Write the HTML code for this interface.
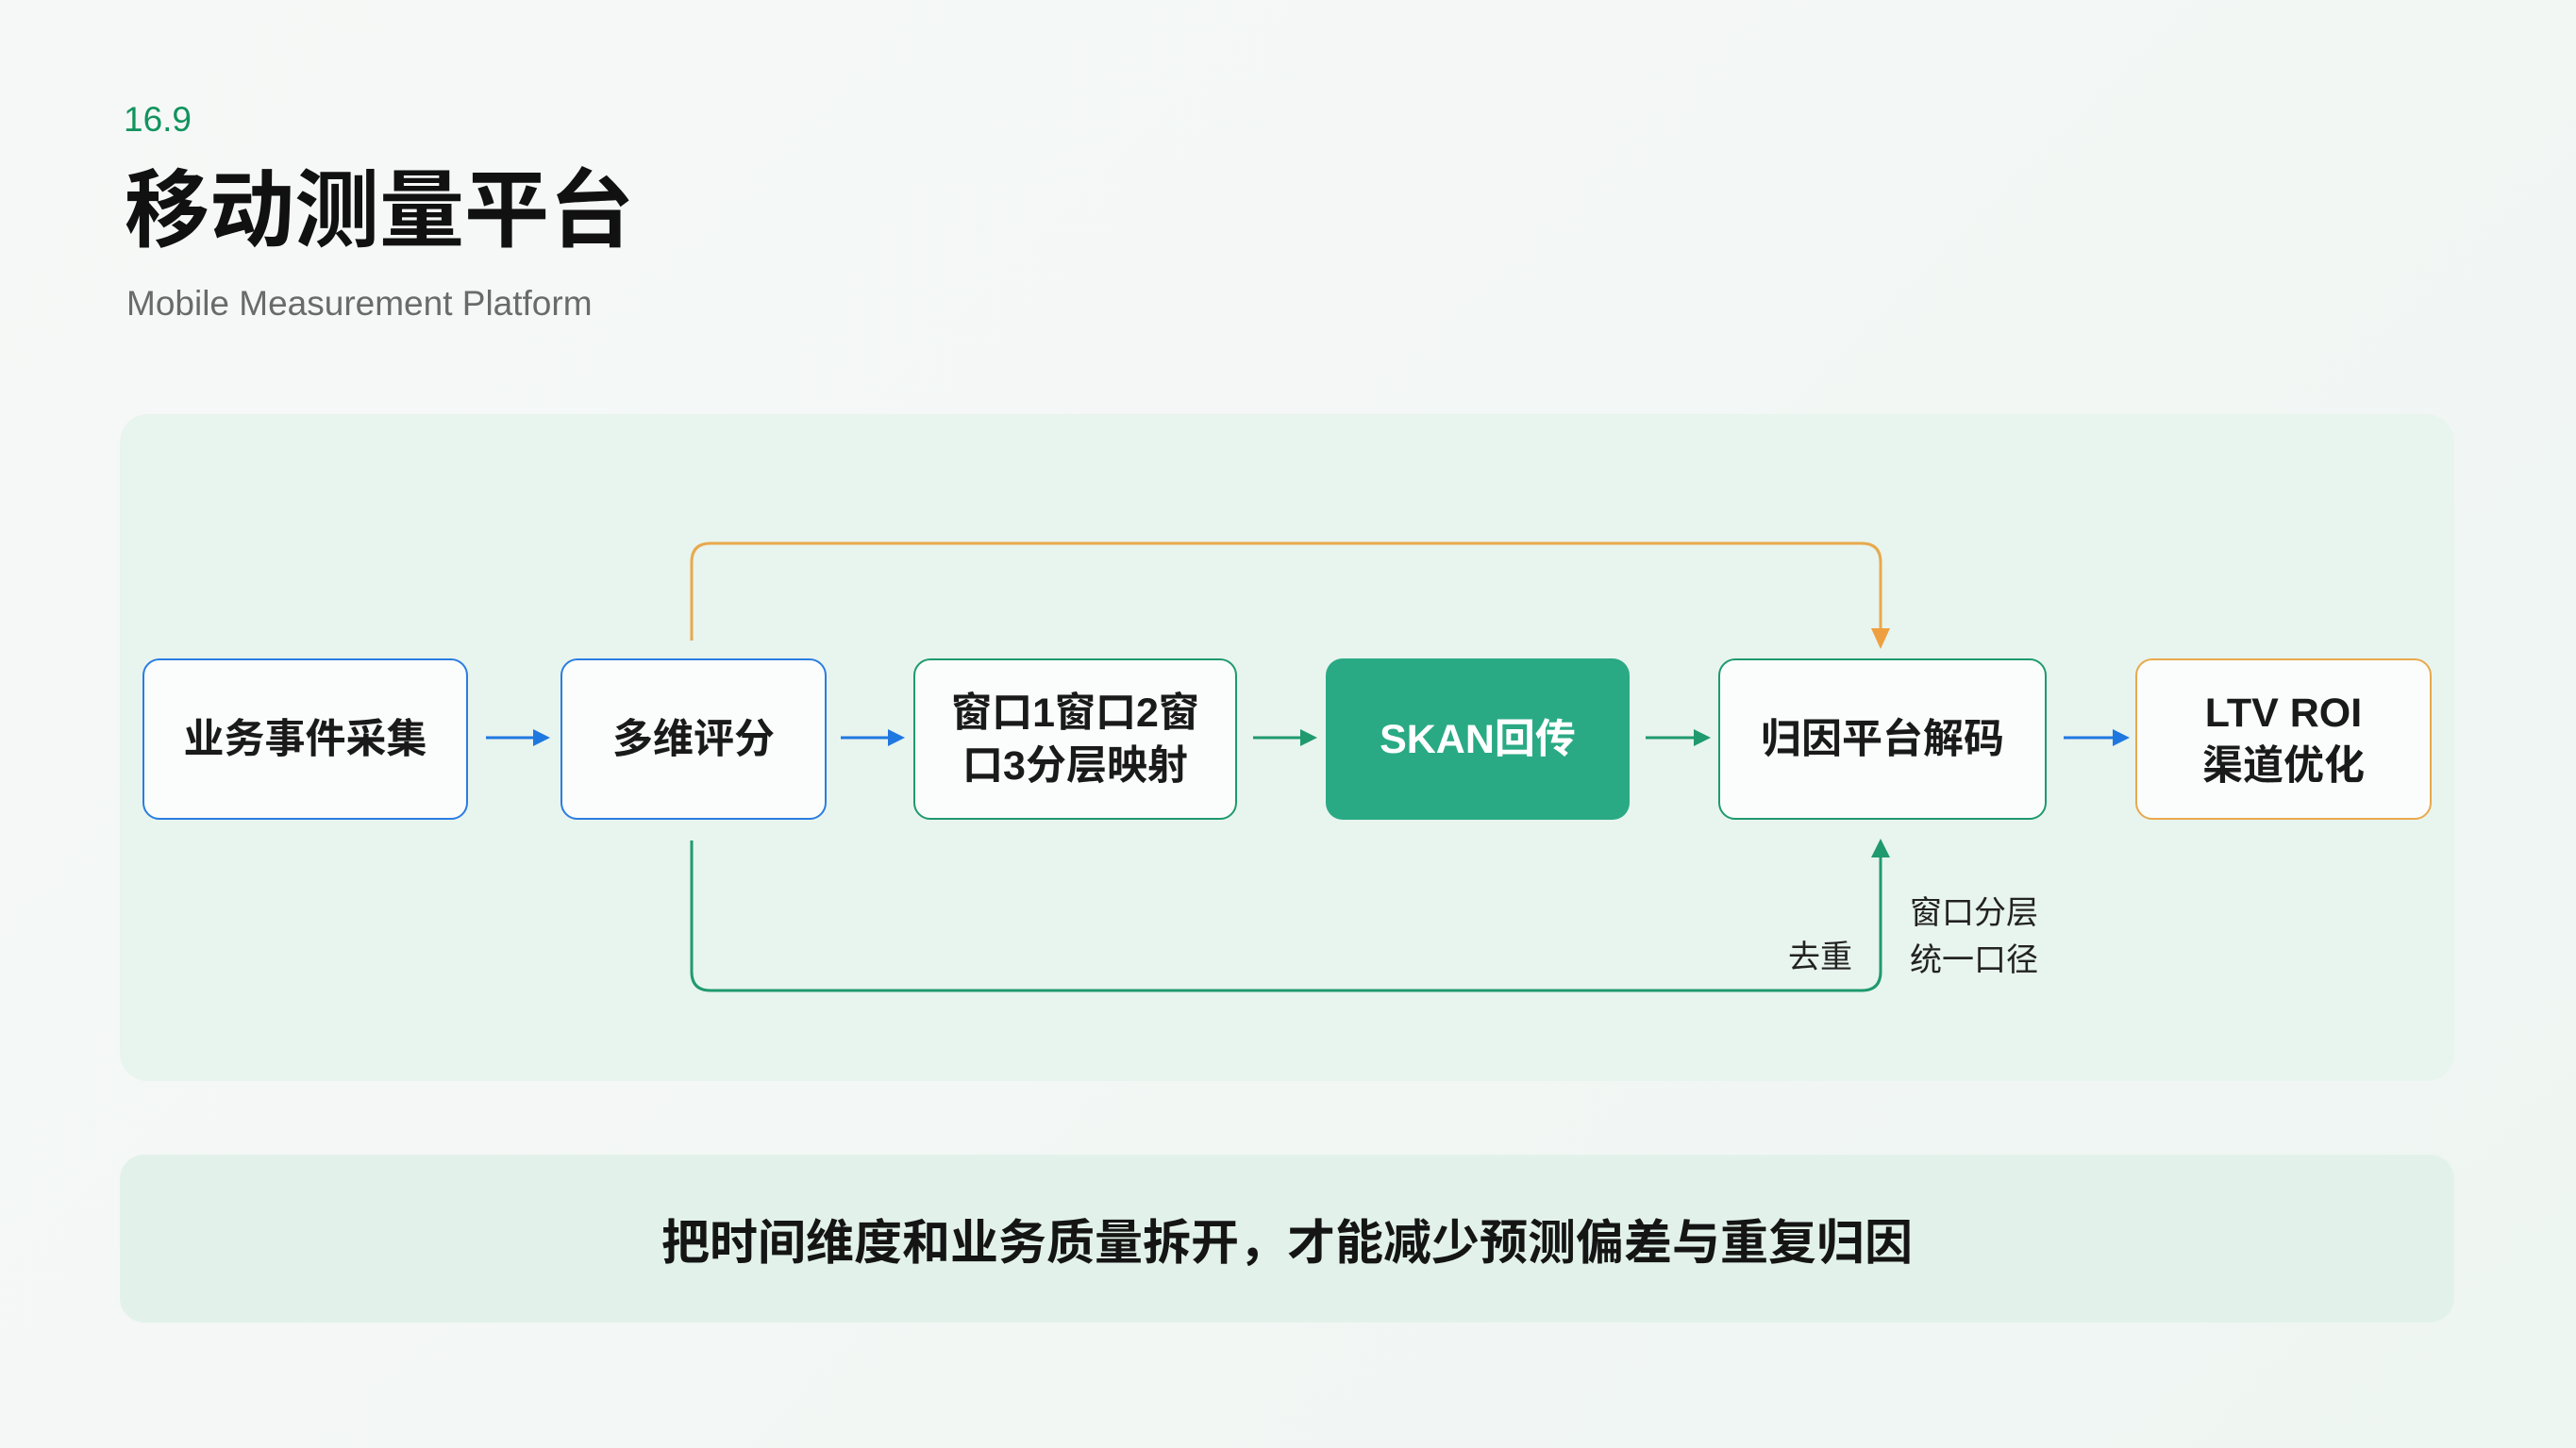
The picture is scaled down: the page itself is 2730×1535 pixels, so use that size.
<!DOCTYPE html>
<html><head><meta charset="utf-8"><style>
html,body{margin:0;padding:0}
body{width:2730px;height:1535px;position:relative;overflow:hidden;background:linear-gradient(135deg,#f6f8f7 0%,#f3f7f5 50%,#eef6f2 100%);font-family:"Liberation Sans","Noto Sans CJK SC",sans-serif;}
.abs{position:absolute}
.box{position:absolute;top:698px;height:171px;box-sizing:border-box;border-radius:18px;background:#fbfdfc;display:flex;align-items:center;justify-content:center;text-align:center;font-size:43px;font-weight:600;color:#1a1a1a;line-height:56px}
.lbl{position:absolute;font-size:34px;color:#222;line-height:50px}
</style></head><body>
<div class="abs" style="left:131px;top:106px;font-size:37px;color:#12935e">16.9</div>
<div class="abs" style="left:132px;top:166px;font-size:90px;font-weight:700;color:#111;line-height:116px">移动测量平台</div>
<div class="abs" style="left:134px;top:301px;font-size:37px;color:#6a6a6a">Mobile Measurement Platform</div>
<div class="abs" style="left:127px;top:439px;width:2474px;height:707px;border-radius:30px;background:#e8f4ee"></div>
<div class="abs" style="left:127px;top:1224px;width:2474px;height:178px;border-radius:26px;background:#e2f2ea;display:flex;align-items:center;justify-content:center;font-size:51px;font-weight:700;color:#151515">把时间维度和业务质量拆开，才能减少预测偏差与重复归因</div>
<svg class="abs" style="left:0;top:0" width="2730" height="1535">
<g stroke-width="3" fill="none">
<path d="M733 679 V596 Q733 576 753 576 H1973 Q1993 576 1993 596 V668" stroke="#e8a94c"/>
<path d="M733 891 V1030 Q733 1050 753 1050 H1973 Q1993 1050 1993 1030 V905" stroke="#1f9a6e"/>
<path d="M515 782 H565" stroke="#1f78e0"/><path d="M891 782 H941" stroke="#1f78e0"/>
<path d="M1328 782 H1378" stroke="#1f9a6e"/><path d="M1744 782 H1795" stroke="#1f9a6e"/>
<path d="M2187 782 H2239" stroke="#1f78e0"/>
</g>
<path d="M565 773 L583 782 L565 791z" fill="#1f78e0"/>
<path d="M941 773 L959 782 L941 791z" fill="#1f78e0"/>
<path d="M1378 773 L1396 782 L1378 791z" fill="#1f9a6e"/>
<path d="M1795 773 L1813 782 L1795 791z" fill="#1f9a6e"/>
<path d="M2239 773 L2257 782 L2239 791z" fill="#1f78e0"/>
<path d="M1983 666 L1993 688 L2003 666z" fill="#eea040"/>
<path d="M1983 909 L1993 889 L2003 909z" fill="#1f9a6e"/>
</svg>
<div class="box" style="left:151px;width:345px;border:2.5px solid #2a7de1">业务事件采集</div>
<div class="box" style="left:594px;width:282px;border:2.5px solid #2a7de1">多维评分</div>
<div class="box" style="left:968px;width:343px;border:2.5px solid #1f9a6e">窗口1窗口2窗<br>口3分层映射</div>
<div class="box" style="left:1405px;width:322px;background:#2aaa84;color:#fff;font-weight:700">SKAN回传</div>
<div class="box" style="left:1821px;width:348px;border:2.5px solid #1f9a6e">归因平台解码</div>
<div class="box" style="left:2263px;width:314px;border:2.5px solid #e8a94c">LTV ROI<br>渠道优化</div>
<div class="lbl" style="left:1895px;top:990px">去重</div>
<div class="lbl" style="left:2024px;top:943px">窗口分层<br>统一口径</div>
</body></html>
